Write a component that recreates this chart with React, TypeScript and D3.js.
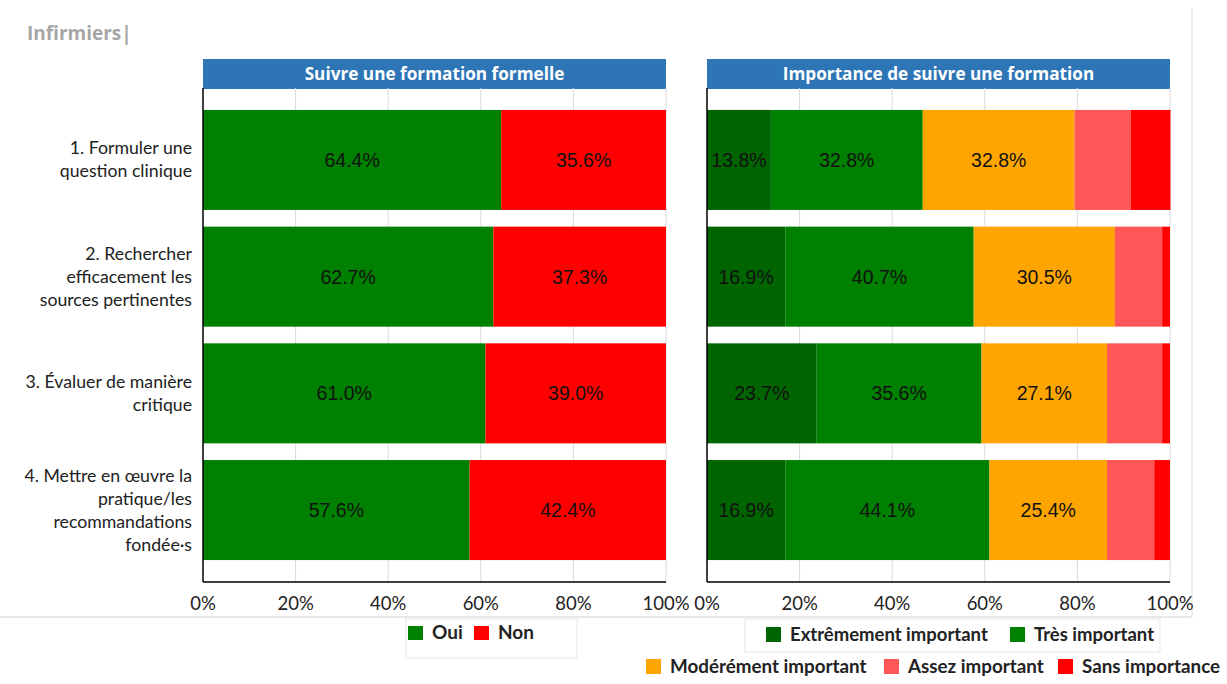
import React from "react";
import * as d3 from "d3";

const categories = [
  ["1. Formuler une", "question clinique"],
  ["2. Rechercher", "efficacement les", "sources pertinentes"],
  ["3. Évaluer de manière", "critique"],
  ["4. Mettre en œuvre la", "pratique/les", "recommandations", "fondée·s"],
];
const catKeys = ["c1", "c2", "c3", "c4"];

const leftSeries = ["Oui", "Non"];
const oui = [64.4, 62.7, 61.0, 57.6];
const non = [35.6, 37.3, 39.0, 42.4];

const rightSeries = ["Extrêmement important", "Très important", "Modérément important", "Assez important", "Sans importance"];
const extremement = [13.8, 16.9, 23.7, 16.9];
const tres = [32.8, 40.7, 35.6, 44.1];
const modere = [32.8, 30.5, 27.1, 25.4];
const assez = [12.1, 10.2, 11.9, 10.2];
const sans = [8.6, 1.7, 1.7, 3.4];

const ticks = [0, 20, 40, 60, 80, 100];
const leftColors = ["#008000", "#FF0000"];
const rightColors = ["#006400", "#008000", "#FFA500", "#FF5757", "#FF0000"];
const rightLabelled = [true, true, true, false, false];

const TOP = 88;
const BOTTOM = 582;

function Panel({ x0, x1, title, series, colors, labelled }: any) {
  const x = d3.scaleLinear().domain([0, 100]).range([x0, x1]);
  const y = d3.scaleBand().domain(catKeys).range([TOP, BOTTOM]).paddingInner(0.143).paddingOuter(0.188);
  const stacked = catKeys.map((k, i) => {
    let acc = 0;
    return series.map((s: number[], j: number) => {
      const start = acc;
      acc += s[i];
      return { start, end: acc, v: s[i], j };
    });
  });
  return (
    <g>
      <rect x={x0} y={59} width={x1 - x0} height={30} fill="#2E75B6" />
      <text x={(x0 + x1) / 2} y={80} textAnchor="middle" fill="#fff" fontFamily="'Open Sans', sans-serif" fontWeight="bold" fontSize={17.2}>{title}</text>
      {ticks.filter((t) => t > 0).map((t) => (
        <line key={t} x1={x(t)} x2={x(t)} y1={TOP} y2={BOTTOM} stroke="#d9d9d9" strokeWidth={1} />
      ))}
      {stacked.map((row, i) =>
        row.map((seg) => (
          <g key={i + "-" + seg.j}>
            <rect x={x(seg.start)} y={y(catKeys[i])} width={x(seg.end) - x(seg.start)} height={y.bandwidth()} fill={colors[seg.j]} />
            {labelled[seg.j] && (
              <text x={(x(seg.start) + x(seg.end)) / 2} y={(y(catKeys[i]) as number) + y.bandwidth() / 2 + 7} textAnchor="middle" fontFamily="'Liberation Sans', Arial, sans-serif" fontSize={19.5} fill="#111">
                {seg.v.toFixed(1) + "%"}
              </text>
            )}
          </g>
        ))
      )}
      <line x1={x0} x2={x0} y1={TOP} y2={BOTTOM} stroke="#000" strokeWidth={1.5} />
      <line x1={x0} x2={x1} y1={BOTTOM} y2={BOTTOM} stroke="#000" strokeWidth={1.5} />
      {ticks.map((t) => (
        <text key={t} x={x(t)} y={610} textAnchor="middle" fontFamily="Lato, sans-serif" fontSize={18.5} fill="#222">{t + "%"}</text>
      ))}
    </g>
  );
}

export default function App() {
  const y = d3.scaleBand().domain(catKeys).range([TOP, BOTTOM]).paddingInner(0.143).paddingOuter(0.188);
  const lh = 23;
  return (
    <svg width={1227} height={684} style={{ position: "absolute", left: 0, top: 0, background: "#fff" }}>
      <text x={27} y={40} fill="#a6a6a6" fontFamily="'Open Sans', sans-serif" fontWeight="bold" fontSize={19}>Infirmiers|</text>
      <line x1={1192} x2={1192} y1={8} y2={617} stroke="#e0e0e0" strokeWidth={1} />
      <line x1={0} x2={1192} y1={617} y2={617} stroke="#d0d0d0" strokeWidth={1} />
      {categories.map((lines, i) => {
        const cy = (y(catKeys[i]) as number) + y.bandwidth() / 2;
        const startY = cy - ((lines.length - 1) * lh) / 2 + 6;
        return (
          <text key={i} textAnchor="end" fontFamily="Lato, sans-serif" fontSize={17.7} fill="#222">
            {lines.map((l, k) => (
              <tspan key={k} x={192} y={startY + k * lh}>{l}</tspan>
            ))}
          </text>
        );
      })}
      <Panel x0={203} x1={666} title="Suivre une formation formelle" series={[oui, non]} colors={leftColors} labelled={[true, true]} />
      <Panel x0={707} x1={1170} title="Importance de suivre une formation" series={[extremement, tres, modere, assez, sans]} colors={rightColors} labelled={rightLabelled} />
      {/* left legend */}
      <rect x={406} y={619} width={171} height={39} fill="none" stroke="#e6e6e6" />
      {leftSeries.map((s, i) => {
        const lx = [408, 474][i];
        return (
          <g key={s}>
            <rect x={lx} y={626} width={15} height={14} fill={leftColors[i]} />
            <text x={lx + 24} y={639} fontFamily="Lato, sans-serif" fontWeight="bold" fontSize={19} fill="#222">{s}</text>
          </g>
        );
      })}
      {/* right legend */}
      <rect x={745} y={619} width={415} height={33} fill="none" stroke="#e6e6e6" />
      {rightSeries.map((s, i) => {
        const pos = [[766, 635], [1010, 635], [646, 667], [884, 667], [1058, 667]][i];
        return (
          <g key={s}>
            <rect x={pos[0]} y={pos[1] - 8} width={15} height={15} fill={rightColors[i]} />
            <text x={pos[0] + 24} y={pos[1] + 6} fontFamily="Lato, sans-serif" fontWeight="bold" fontSize={i < 2 ? 18.5 : 18.8} fill="#222">{s}</text>
          </g>
        );
      })}
    </svg>
  );
}
